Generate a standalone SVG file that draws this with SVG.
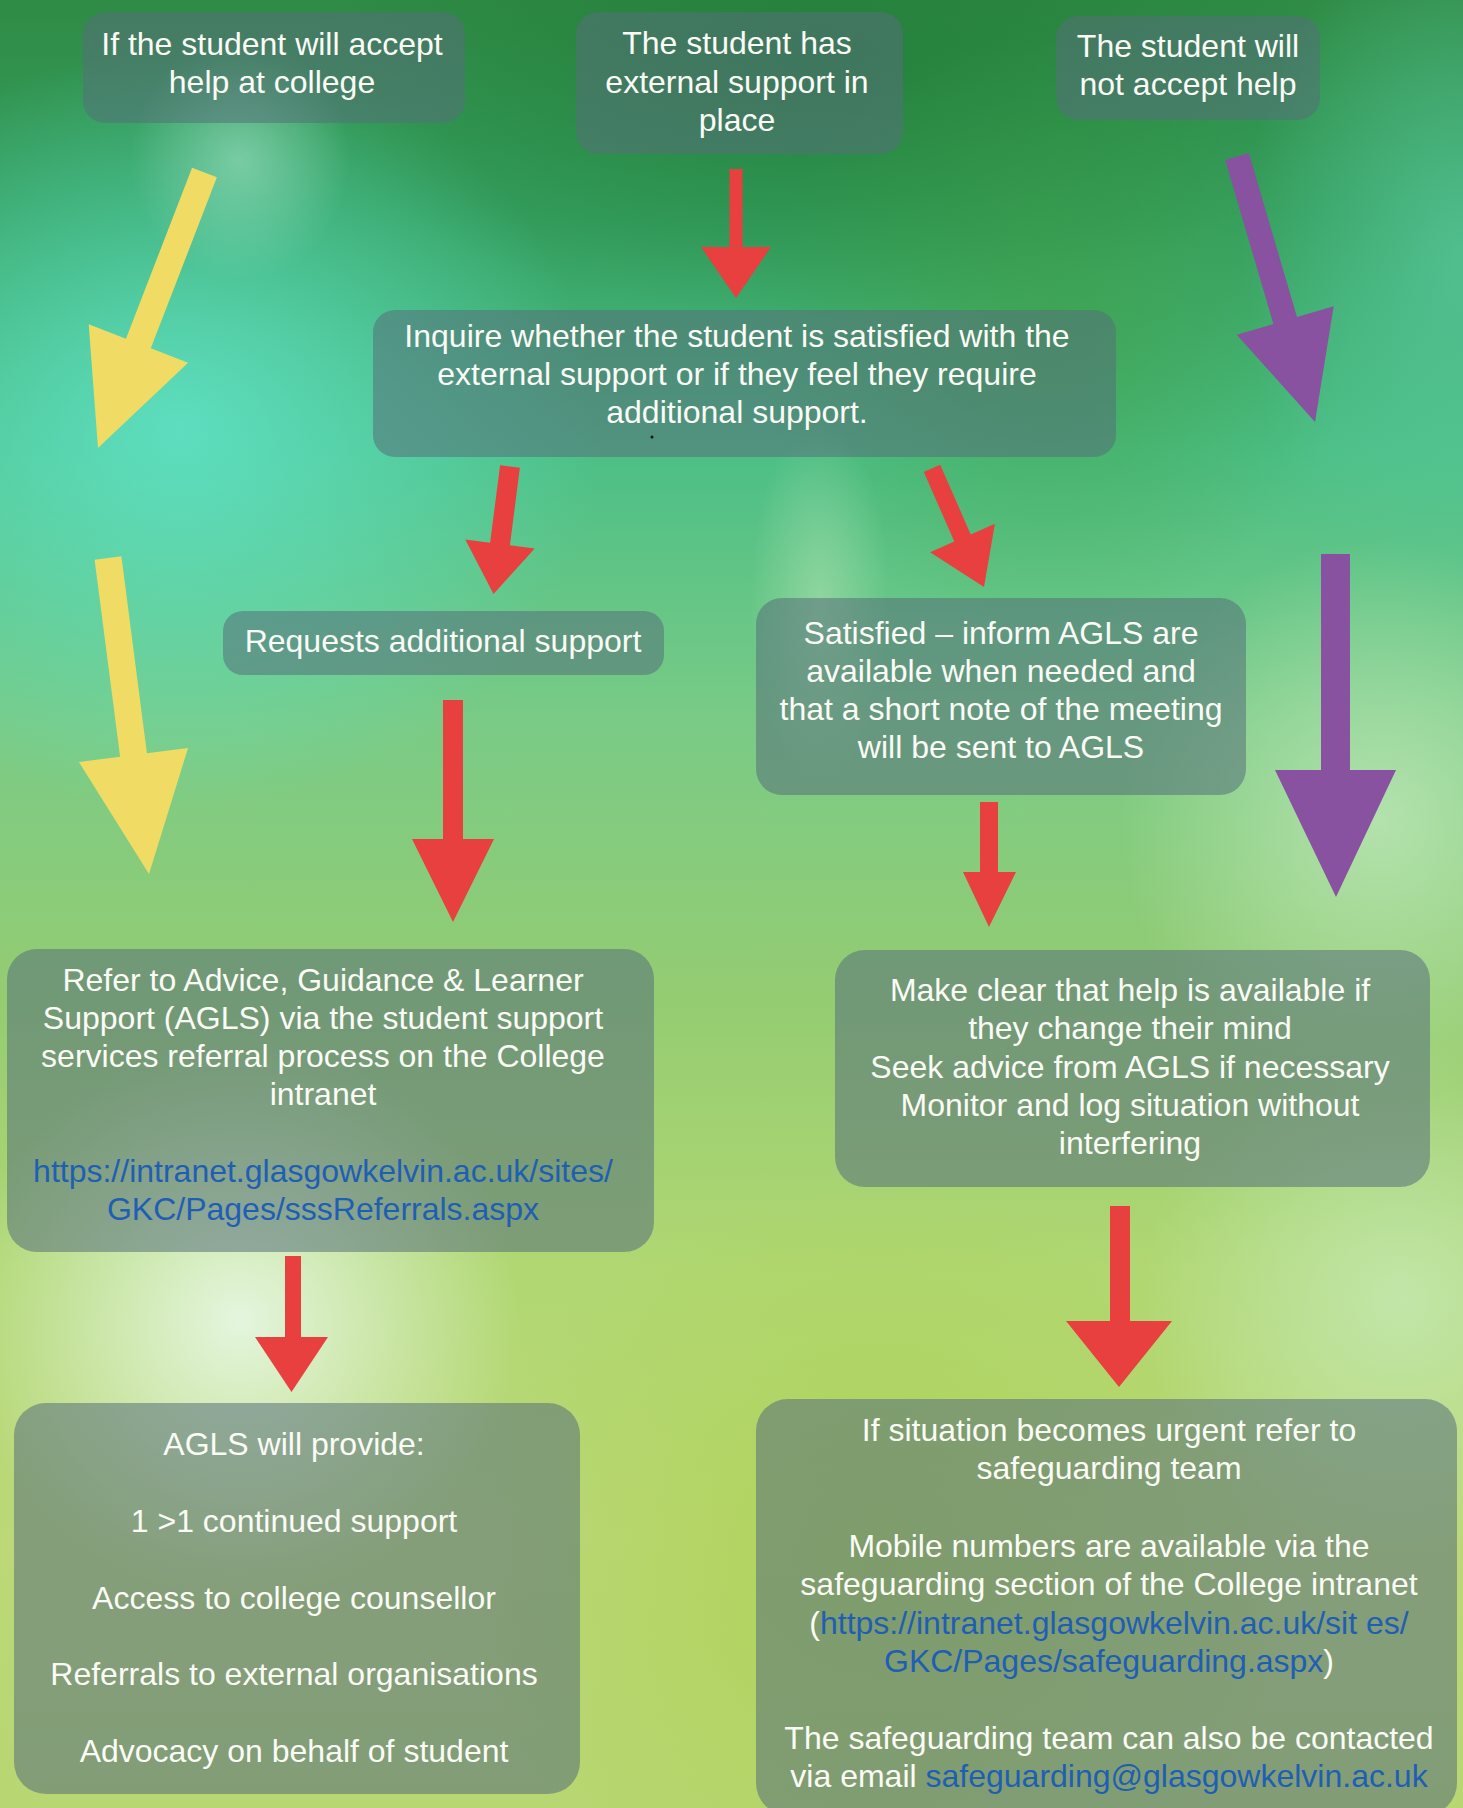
<svg xmlns="http://www.w3.org/2000/svg" width="1463" height="1808" viewBox="0 0 1463 1808">
<defs>
<linearGradient id="bg" x1="0" y1="0" x2="0" y2="1">
<stop offset="0" stop-color="#2f8b45"/>
<stop offset="0.12" stop-color="#35a060"/>
<stop offset="0.25" stop-color="#4cbf86"/>
<stop offset="0.4" stop-color="#7acb86"/>
<stop offset="0.55" stop-color="#94cc72"/>
<stop offset="0.7" stop-color="#b0d772"/>
<stop offset="0.85" stop-color="#bcd878"/>
<stop offset="1" stop-color="#b8d672"/>
</linearGradient>
<radialGradient id="gTurq"><stop offset="0" stop-color="#60e2c6" stop-opacity="0.9"/><stop offset="1" stop-color="#60e2c6" stop-opacity="0"/></radialGradient>
<radialGradient id="gDark"><stop offset="0" stop-color="#1f7a35" stop-opacity="0.7"/><stop offset="1" stop-color="#1f7a35" stop-opacity="0"/></radialGradient>
<radialGradient id="gTeal"><stop offset="0" stop-color="#5ccaa0" stop-opacity="0.7"/><stop offset="1" stop-color="#5ccaa0" stop-opacity="0"/></radialGradient>
<radialGradient id="gPale"><stop offset="0" stop-color="#eaf9ea" stop-opacity="0.9"/><stop offset="1" stop-color="#eaf9ea" stop-opacity="0"/></radialGradient>
<radialGradient id="gLight"><stop offset="0" stop-color="#c8ecc0" stop-opacity="0.7"/><stop offset="1" stop-color="#c8ecc0" stop-opacity="0"/></radialGradient>
<radialGradient id="gLime"><stop offset="0" stop-color="#a6cf45" stop-opacity="0.6"/><stop offset="1" stop-color="#a6cf45" stop-opacity="0"/></radialGradient>
<radialGradient id="gGlow"><stop offset="0" stop-color="#9fe0c4" stop-opacity="0.6"/><stop offset="1" stop-color="#9fe0c4" stop-opacity="0"/></radialGradient>
<radialGradient id="gGreen"><stop offset="0" stop-color="#3f9c3e" stop-opacity="0.55"/><stop offset="1" stop-color="#3f9c3e" stop-opacity="0"/></radialGradient>
<style>
.box{fill:#55707a;fill-opacity:0.55}
.t{font-family:"Liberation Sans",Arial,sans-serif;font-size:32px;fill:#fbfbf6;text-anchor:middle}
.lnk{fill:#1f5fb3}
.red{fill:#e8403f}
.yel{fill:#f0dc64}
.pur{fill:#8852a0}
</style>
</defs>

<g id="background">
<rect x="0" y="0" width="1463" height="1808" fill="url(#bg)"/>
<ellipse cx="180" cy="430" rx="420" ry="380" fill="url(#gTurq)"/>
<ellipse cx="820" cy="60" rx="520" ry="260" fill="url(#gDark)"/>
<ellipse cx="1050" cy="330" rx="300" ry="300" fill="url(#gGreen)"/>
<ellipse cx="1463" cy="260" rx="220" ry="360" fill="url(#gTeal)"/>
<ellipse cx="240" cy="1320" rx="280" ry="280" fill="url(#gPale)"/>
<ellipse cx="1380" cy="820" rx="260" ry="280" fill="url(#gLight)"/>
<ellipse cx="880" cy="1560" rx="420" ry="380" fill="url(#gLime)"/>
<ellipse cx="1400" cy="1300" rx="260" ry="260" fill="url(#gLight)"/>
<ellipse cx="240" cy="160" rx="110" ry="120" fill="url(#gGlow)"/>
<ellipse cx="820" cy="600" rx="70" ry="180" fill="url(#gLight)" opacity="0.6"/>
</g>

<g id="connectors">
<polygon class="yel" points="192.1,167.7 216.9,177.3 150.8,348.3 188.1,362.7 98,448 88.7,324.3 126,338.7"/>
<polygon class="yel" points="94.6,559.7 121.4,556.3 146.9,753.3 188.1,747.9 149,874 78.9,762.1 120.1,756.7"/>
<polygon class="red" points="729.5,169 742.5,169 742.5,247 771,247 736,298 701,247 729.5,247"/>
<polygon class="pur" points="1225.2,160 1248.8,153 1297,317 1333.7,306.3 1315,422 1236.7,334.7 1273.4,324"/>
<polygon class="red" points="500.1,465.2 519.9,467.8 509.9,545.3 534.7,548.5 493.5,594 465.3,539.5 490.1,542.7"/>
<polygon class="red" points="923.8,471.9 940.2,464.7 970.7,534.4 994.9,523.8 984,587 930.1,552.2 954.3,541.6"/>
<polygon class="pur" points="1321,554 1350,554 1350,770 1396,770 1336,897 1275,770 1321,770"/>
<polygon class="red" points="443,700 463,700 463,839 494,839 453,922 412,839 443,839"/>
<polygon class="red" points="980,802 998,802 998,872 1016,872 989,927 963,872 980,872"/>
<polygon class="red" points="285,1256 301,1256 301,1337 328,1337 291.5,1392 255,1337 285,1337"/>
<polygon class="red" points="1110,1206 1130,1206 1130,1321 1172,1321 1119,1387 1066,1321 1110,1321"/>
</g>

<g id="node-accept">
<rect class="box" x="83" y="12" width="382" height="111" rx="22"/>
<text class="t" x="272" y="55">If the student will accept</text>
<text class="t" x="272" y="93">help at college</text>
</g>

<g id="node-external">
<rect class="box" x="576" y="12" width="327" height="142" rx="22"/>
<text class="t" x="737" y="54">The student has</text>
<text class="t" x="737" y="93">external support in</text>
<text class="t" x="737" y="131">place</text>
</g>

<g id="node-notaccept">
<rect class="box" x="1056" y="16" width="264" height="104" rx="22"/>
<text class="t" x="1188" y="57">The student will</text>
<text class="t" x="1188" y="95">not accept help</text>
</g>

<g id="node-inquire">
<rect class="box" x="373" y="310" width="743" height="147" rx="22"/>
<text class="t" x="737" y="347">Inquire whether the student is satisfied with the</text>
<text class="t" x="737" y="385">external support or if they feel they require</text>
<text class="t" x="737" y="423">additional support.</text>
<circle cx="652" cy="437" r="1.5" fill="#111"/>
</g>

<g id="node-requests">
<rect class="box" x="223" y="611" width="441" height="64" rx="20"/>
<text class="t" x="443" y="652">Requests additional support</text>
</g>

<g id="node-satisfied">
<rect class="box" x="756" y="598" width="490" height="197" rx="26"/>
<text class="t" x="1001" y="644">Satisfied – inform AGLS are</text>
<text class="t" x="1001" y="682">available when needed and</text>
<text class="t" x="1001" y="720">that a short note of the meeting</text>
<text class="t" x="1001" y="758">will be sent to AGLS</text>
</g>

<g id="node-refer">
<rect class="box" x="7" y="949" width="647" height="303" rx="30"/>
<text class="t" x="323" y="991">Refer to Advice, Guidance &amp; Learner</text>
<text class="t" x="323" y="1029">Support (AGLS) via the student support</text>
<text class="t" x="323" y="1067">services referral process on the College</text>
<text class="t" x="323" y="1105">intranet</text>
<text class="t lnk" x="323" y="1182">https://intranet.glasgowkelvin.ac.uk/sites/</text>
<text class="t lnk" x="323" y="1220">GKC/Pages/sssReferrals.aspx</text>
</g>

<g id="node-makeclear">
<rect class="box" x="835" y="950" width="595" height="237" rx="30"/>
<text class="t" x="1130" y="1001">Make clear that help is available if</text>
<text class="t" x="1130" y="1039">they change their mind</text>
<text class="t" x="1130" y="1078">Seek advice from AGLS if necessary</text>
<text class="t" x="1130" y="1116">Monitor and log situation without</text>
<text class="t" x="1130" y="1154">interfering</text>
</g>

<g id="node-aglsprovide">
<rect class="box" x="14" y="1403" width="566" height="391" rx="32"/>
<text class="t" x="294" y="1455">AGLS will provide:</text>
<text class="t" x="294" y="1532">1 &gt;1 continued support</text>
<text class="t" x="294" y="1609">Access to college counsellor</text>
<text class="t" x="294" y="1685">Referrals to external organisations</text>
<text class="t" x="294" y="1762">Advocacy on behalf of student</text>
</g>

<g id="node-urgent">
<rect class="box" x="756" y="1399" width="701" height="416" rx="32"/>
<text class="t" x="1109" y="1441">If situation becomes urgent refer to</text>
<text class="t" x="1109" y="1479">safeguarding team</text>
<text class="t" x="1109" y="1557">Mobile numbers are available via the</text>
<text class="t" x="1109" y="1595">safeguarding section of the College intranet</text>
<text class="t" x="1109" y="1634">(<tspan class="lnk">https://intranet.glasgowkelvin.ac.uk/sit es/</tspan></text>
<text class="t" x="1109" y="1672"><tspan class="lnk">GKC/Pages/safeguarding.aspx</tspan>)</text>
<text class="t" x="1109" y="1749">The safeguarding team can also be contacted</text>
<text class="t" x="1109" y="1787">via email <tspan class="lnk">safeguarding@glasgowkelvin.ac.uk</tspan></text>
</g>
</svg>
